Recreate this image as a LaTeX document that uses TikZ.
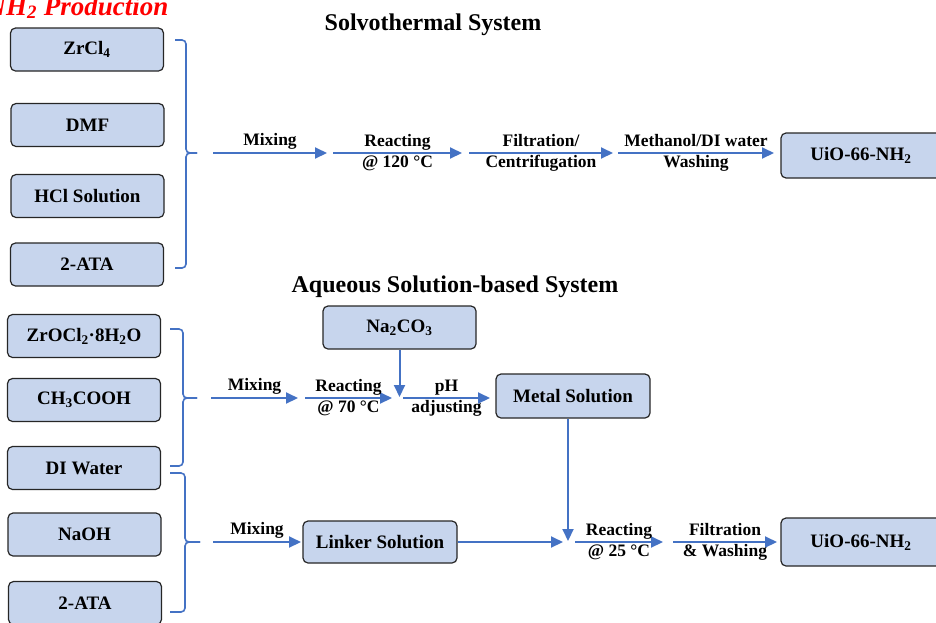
\documentclass[tikz,border=0pt]{standalone}
\usepackage{fontspec}
\setmainfont{Liberation Serif}
\usetikzlibrary{arrows.meta}

\definecolor{boxblue}{RGB}{199,213,237}
\definecolor{lineblue}{RGB}{68,114,196}

\tikzset{
  chem/.style={draw=black!85, fill=boxblue, rounded corners=5pt, line width=1.2pt,
               minimum width=153pt, minimum height=43pt, inner sep=0pt,
               font=\fontsize{19}{22}\selectfont\bfseries},
  flow/.style={draw=lineblue, line width=2pt, -{Triangle[length=12pt,width=11pt]}},
  brace/.style={draw=lineblue, line width=1.6pt, rounded corners=4pt},
  tag/.style={font=\fontsize{17.5}{19}\selectfont\bfseries, inner sep=1.5pt,
              text height=12pt, text depth=4pt},
  heading/.style={font=\fontsize{24}{28}\selectfont\bfseries, anchor=base},
}

\begin{document}
\begin{tikzpicture}[x=1pt,y=-1pt]
\useasboundingbox (0,0) rectangle (936,622);
\clip (0,0) rectangle (936,622);

\node[anchor=base east, text=red, font=\fontsize{27}{30}\selectfont\bfseries\itshape] (title) at (172,15) {NH\textsubscript{2} Production};

% solvothermal route
\node[heading] (solvo) at (433,30) {Solvothermal System};

\node[chem] (zrcl) at (87,49.5) {ZrCl\textsubscript{4}};
\node[chem] (dmf)  at (87.5,125) {DMF};
\node[chem] (hcl)  at (87.5,196) {HCl Solution};
\node[chem] (ataA) at (87,264.5) {2-ATA};
\node[chem, minimum width=160pt, minimum height=45pt] (uioA) at (861,155.5) {UiO-66-NH\textsubscript{2}};

\draw[brace] (175,40) -| (186,153) -- (197,153);
\draw[brace] (197,153) -- (186,153) |- (175,268);

\coordinate (s0) at (213,153);
\coordinate (s1) at (327,153);
\coordinate (s2) at (333,153);
\coordinate (s3) at (462,153);
\coordinate (s4) at (469,153);
\coordinate (s5) at (613,153);
\coordinate (s6) at (618,153);
\coordinate (s7) at (774,153);

\draw[flow] (s0) -- node[tag, above=1pt] {Mixing} (s1);
\draw[flow] (s2) -- node[tag, above] {Reacting} node[tag, below] {@ 120 °C} (s3);
\draw[flow] (s4) -- node[tag, above] {Filtration/} node[tag, below] {Centrifugation} (s5);
\draw[flow] (s6) -- node[tag, above] {Methanol/DI water} node[tag, below] {Washing} (s7);

% aqueous route
\node[heading] (aqua) at (455,292) {Aqueous Solution-based System};

\node[chem] (zrocl) at (84,336) {ZrOCl\textsubscript{2}·8H\textsubscript{2}O};
\node[chem] (acid)  at (84,400) {CH\textsubscript{3}COOH};
\node[chem] (diw)   at (84,468) {DI Water};
\node[chem] (naoh)  at (84.5,534.5) {NaOH};
\node[chem] (ataB)  at (85,603) {2-ATA};

\node[chem] (naco)   at (399.5,327.5) {Na\textsubscript{2}CO\textsubscript{3}};
\node[chem, minimum width=154pt, minimum height=44pt] (metal)  at (573,396) {Metal Solution};
\node[chem, minimum width=154pt, minimum height=42pt] (linker) at (380,542) {Linker Solution};
\node[chem, minimum width=160pt, minimum height=48pt] (uioB)   at (861,542) {UiO-66-NH\textsubscript{2}};

\draw[brace] (170,329) -| (183,398) -- (197,398);
\draw[brace] (197,398) -- (183,398) |- (170,466);
\draw[brace] (170,473) -| (185,542) -- (200,542);
\draw[brace] (200,542) -- (185,542) |- (170,612);

\coordinate (m0) at (211,398);
\coordinate (m1) at (298,398);
\coordinate (m2) at (305,398);
\coordinate (m3) at (392,398);
\coordinate (m4) at (403,398);
\coordinate (m5) at (490,398);
\coordinate (drop) at (399.5,397);

\draw[flow] (m0) -- node[tag, above=1pt] {Mixing} (m1);
\draw[flow] (m2) -- node[tag, above] {Reacting} node[tag, below] {@ 70 °C} (m3);
\draw[flow] (m4) -- node[tag, above] {pH} node[tag, below] {adjusting} (m5);
\draw[flow] (naco) -- (drop);

\coordinate (n0) at (213,542);
\coordinate (n1) at (301,542);
\coordinate (n2) at (563,542);
\coordinate (n3) at (575,542);
\coordinate (n4) at (663,542);
\coordinate (n5) at (673,542);
\coordinate (n6) at (777,542);
\coordinate (down) at (568,541);

\draw[flow] (n0) -- node[tag, above=1pt] {Mixing} (n1);
\draw[flow] (linker.east) -- (n2);
\draw[flow] (metal.south -| down) -- (down);
\draw[flow] (n3) -- node[tag, above] {Reacting} node[tag, below] {@ 25 °C} (n4);
\draw[flow] (n5) -- node[tag, above] {Filtration} node[tag, below] {\& Washing} (n6);

\end{tikzpicture}
\end{document}
